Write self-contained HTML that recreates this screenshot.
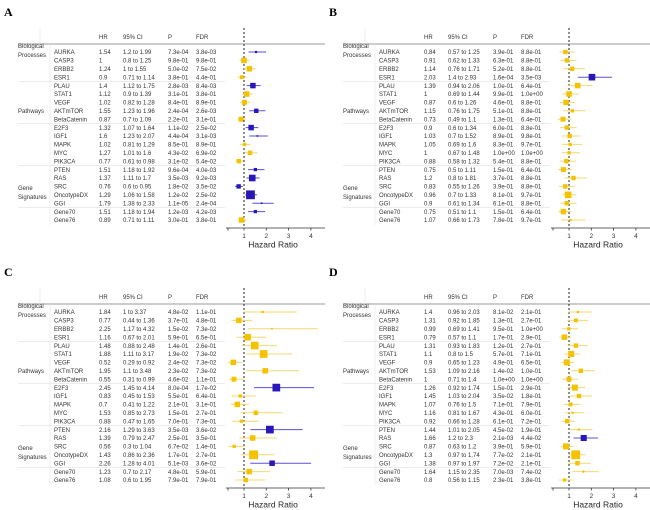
<!DOCTYPE html>
<html><head><meta charset="utf-8"><style>
html,body{margin:0;padding:0;background:#fff;}
svg{display:block;font-family:"Liberation Sans",sans-serif;}
</style></head><body>
<svg id="chart" width="650" height="510" viewBox="0 0 650 510" xmlns="http://www.w3.org/2000/svg"></svg>
<script>
const genes = ["AURKA","CASP3","ERBB2","ESR1","PLAU","STAT1","VEGF","AKTmTOR","BetaCatenin","E2F3","IGF1","MAPK","MYC","PIK3CA","PTEN","RAS","SRC","OncotypeDX","GGI","Gene70","Gene76"];
const panelLabels = ["A","B","C","D"];
const axisTicks = [1,2,3,4];

const hrA = [1.54,1,1.24,0.9,1.4,1.12,1.02,1.55,0.87,1.32,1.6,1.02,1.27,0.77,1.51,1.37,0.76,1.29,1.79,1.51,0.89];
const loA = [1.2,0.8,1,0.71,1.12,0.9,0.82,1.23,0.7,1.07,1.23,0.81,1.01,0.61,1.18,1.11,0.6,1.06,1.38,1.18,0.71];
const hiA = [1.99,1.25,1.55,1.14,1.75,1.39,1.28,1.96,1.09,1.64,2.07,1.29,1.6,0.98,1.92,1.7,0.95,1.58,2.33,1.94,1.11];
const pA = ["7.3e-04","9.8e-01","5.0e-02","3.8e-01","2.8e-03","3.1e-01","8.4e-01","2.4e-04","2.2e-01","1.1e-02","4.4e-04","8.5e-01","4.3e-02","3.1e-02","9.6e-04","3.5e-03","1.8e-02","1.2e-02","1.1e-05","1.2e-03","3.0e-01"];
const fdrA = [0.0038,0.98,0.075,0.44,0.0084,0.38,0.89,0.0026,0.31,0.025,0.0031,0.89,0.069,0.054,0.004,0.0092,0.035,0.025,0.00024,0.0042,0.38];
const fdrTxtA = ["3.8e-03","9.8e-01","7.5e-02","4.4e-01","8.4e-03","3.8e-01","8.9e-01","2.6e-03","3.1e-01","2.5e-02","3.1e-03","8.9e-01","6.9e-02","5.4e-02","4.0e-03","9.2e-03","3.5e-02","2.5e-02","2.4e-04","4.2e-03","3.8e-01"];
const sizeA = [2,5,5,3.5,5,5,4.5,4,4.5,5,1.5,3,4,4,3,6,4,8,1.5,3,5];

const hrB = [0.84,0.91,1.14,2.03,1.39,1,0.87,1.15,0.73,0.9,1.03,1.05,1,0.88,0.75,1.2,0.83,0.96,0.9,0.75,1.07];
const loB = [0.57,0.62,0.76,1.4,0.94,0.69,0.6,0.76,0.49,0.6,0.7,0.69,0.67,0.58,0.5,0.8,0.55,0.7,0.61,0.51,0.66];
const hiB = [1.25,1.33,1.71,2.93,2.06,1.44,1.26,1.75,1.1,1.34,1.52,1.6,1.48,1.32,1.11,1.81,1.26,1.33,1.34,1.1,1.73];
const pB = ["3.9e-01","6.3e-01","5.2e-01","1.6e-04","1.0e-01","9.9e-01","4.6e-01","5.1e-01","1.3e-01","6.0e-01","8.9e-01","8.3e-01","1.0e+00","5.4e-01","1.5e-01","3.7e-01","3.9e-01","8.1e-01","6.1e-01","1.5e-01","7.8e-01"];
const fdrB = [0.88,0.88,0.88,0.0035,0.64,1,0.88,0.88,0.64,0.88,0.98,0.97,1,0.88,0.64,0.88,0.88,0.97,0.88,0.64,0.97];
const fdrTxtB = ["8.8e-01","8.8e-01","8.8e-01","3.5e-03","6.4e-01","1.0e+00","8.8e-01","8.8e-01","6.4e-01","8.8e-01","9.8e-01","9.7e-01","1.0e+00","8.8e-01","6.4e-01","8.8e-01","8.8e-01","9.7e-01","8.8e-01","6.4e-01","9.7e-01"];
const sizeB = [4,4,4,6,5,5,5,3,4.5,4,4,3,3,4,4.5,4,4,6,4,5,2];

const hrC = [1.84,0.77,2.25,1.16,1.48,1.88,0.52,1.95,0.55,2.45,0.83,0.7,1.53,0.88,2.16,1.39,0.56,1.43,2.26,1.23,1.08];
const loC = [1,0.44,1.17,0.67,0.88,1.11,0.29,1.1,0.31,1.45,0.45,0.41,0.85,0.47,1.29,0.79,0.3,0.86,1.28,0.7,0.6];
const hiC = [3.37,1.36,4.32,2.01,2.48,3.17,0.92,3.48,0.99,4.14,1.53,1.22,2.73,1.65,3.63,2.47,1.04,2.36,4.01,2.17,1.95];
const pC = ["4.8e-02","3.7e-01","1.5e-02","5.9e-01","1.4e-01","1.9e-02","2.4e-02","2.3e-02","4.6e-02","8.0e-04","5.5e-01","2.1e-01","1.5e-01","7.0e-01","3.5e-03","2.5e-01","6.7e-02","1.7e-01","5.1e-03","4.8e-01","7.9e-01"];
const fdrC = [0.11,0.48,0.073,0.65,0.26,0.073,0.073,0.073,0.11,0.017,0.64,0.31,0.27,0.73,0.036,0.35,0.14,0.27,0.036,0.59,0.79];
const fdrTxtC = ["1.1e-01","4.8e-01","7.3e-02","6.5e-01","2.6e-01","7.3e-02","7.3e-02","7.3e-02","1.1e-01","1.7e-02","6.4e-01","3.1e-01","2.7e-01","7.3e-01","3.6e-02","3.5e-01","1.4e-01","2.7e-01","3.6e-02","5.9e-01","7.9e-01"];
const sizeC = [2,5,1.5,6,7,7,5,5,4.5,7,3,5,4,3,7,5,3,8,5,5,4];

const hrD = [1.4,1.31,0.99,0.79,1.31,1.1,0.9,1.53,1,1.26,1.45,1.07,1.16,0.92,1.44,1.66,0.87,1.3,1.38,1.64,0.8];
const loD = [0.96,0.92,0.69,0.57,0.93,0.8,0.65,1.09,0.71,0.92,1.03,0.76,0.81,0.66,1.01,1.2,0.63,0.97,0.97,1.15,0.56];
const hiD = [2.03,1.85,1.41,1.1,1.83,1.5,1.23,2.16,1.4,1.74,2.04,1.5,1.67,1.28,2.05,2.3,1.2,1.74,1.97,2.35,1.15];
const pD = ["8.1e-02","1.3e-01","9.5e-01","1.7e-01","1.2e-01","5.7e-01","4.9e-01","1.4e-02","1.0e+00","1.5e-01","3.5e-02","7.1e-01","4.3e-01","6.1e-01","4.5e-02","2.1e-03","3.9e-01","7.7e-02","7.2e-02","7.0e-03","2.3e-01"];
const fdrD = [0.21,0.27,1,0.29,0.27,0.71,0.65,0.1,1,0.29,0.18,0.79,0.6,0.72,0.19,0.044,0.59,0.21,0.21,0.074,0.38];
const fdrTxtD = ["2.1e-01","2.7e-01","1.0e+00","2.9e-01","2.7e-01","7.1e-01","6.5e-01","1.0e-01","1.0e+00","2.9e-01","1.8e-01","7.9e-01","6.0e-01","7.2e-01","1.9e-01","4.4e-02","5.9e-01","2.1e-01","2.1e-01","7.4e-02","3.8e-01"];
const sizeD = [2,3.5,3,5,4,5.5,5.5,4,4.5,5.5,4,3.5,2,4,2,5.5,5.5,8,4,2,3];

const panels = [
  {hr:hrA,lo:loA,hi:hiA,p:pA,fdr:fdrA,fdrTxt:fdrTxtA,size:sizeA,ox:0,oy:0},
  {hr:hrB,lo:loB,hi:hiB,p:pB,fdr:fdrB,fdrTxt:fdrTxtB,size:sizeB,ox:325,oy:0},
  {hr:hrC,lo:loC,hi:hiC,p:pC,fdr:fdrC,fdrTxt:fdrTxtC,size:sizeC,ox:0,oy:260},
  {hr:hrD,lo:loD,hi:hiD,p:pD,fdr:fdrD,fdrTxt:fdrTxtD,size:sizeD,ox:325,oy:260}
];

const NS = "http://www.w3.org/2000/svg";
const svg = document.getElementById("chart");
function mk(tag, attrs, parent, txt){
  const e = document.createElementNS(NS, tag);
  for (const k in attrs) e.setAttribute(k, attrs[k]);
  if (txt !== undefined) e.textContent = txt;
  (parent||svg).appendChild(e);
  return e;
}
function xScale(v){ return 244 + (v - 1) * 22.3; }
function yRow(i){ return 52 + i * 8.4; }

panels.forEach((P, pi) => {
  const g = mk("g", {transform:`translate(${P.ox},${P.oy})`});
  
  
  const lab = mk("text", {x:4, y:16, "font-family":"Liberation Serif,serif", "font-weight":"bold", "font-size":"12", fill:"#000"}, g, panelLabels[pi]);
  
  
  const hdr = [["HR",99],["95% CI",123],["P",168],["FDR",196]];
  hdr.forEach(h => {
    const t = mk("text", {x:h[1], y:39, "font-size":"6", fill:"#333"}, g, h[0]);
    
    
  });
  mk("line", {x1:18, y1:44, x2:325, y2:44, stroke:"#777", "stroke-width":"0.8"}, g);
  mk("line", {x1:50, y1:44, x2:50, y2:225, stroke:"#e4e4e4", "stroke-width":"0.6"}, g);
  mk("line", {x1:40, y1:28, x2:40, y2:43, stroke:"#e4e4e4", "stroke-width":"0.6"}, g);
  [3,8,13,18].forEach(k => {
    const y = yRow(k) + 4.2;
    mk("line", {x1:18, y1:y, x2:225, y2:y, stroke:"#e2e2e2", "stroke-width":"0.6"}, g);
  });
  const grp = [["Biological",48],["Processes",57],["Pathways",113],["Gene",190],["Signatures",199]];
  grp.forEach(gl => {
    const t = mk("text", {x:18, y:gl[1], "font-size":"6", fill:"#333"}, g, gl[0]);
    
    
  });
  mk("line", {x1:xScale(1), y1:28, x2:xScale(1), y2:228, stroke:"#222", "stroke-width":"1", "stroke-dasharray":"2,2"}, g);
  genes.forEach((gn, i) => {
    const y = yRow(i);
    const ty = y + 2.2;
    const row = mk("g", {}, g);
    
    
    mk("text", {x:54, y:ty, "font-size":"6", fill:"#333"}, row, gn);
    mk("text", {x:99, y:ty, "font-size":"6", fill:"#333"}, row, String(P.hr[i]));
    mk("text", {x:123, y:ty, "font-size":"6", fill:"#333"}, row, P.lo[i] + " to " + P.hi[i]);
    mk("text", {x:168, y:ty, "font-size":"6", fill:"#333"}, row, P.p[i]);
    mk("text", {x:196, y:ty, "font-size":"6", fill:"#333"}, row, P.fdrTxt[i]);
    const sig = P.fdr[i] < 0.05;
    const lc = sig ? "#5a50d8" : "#f4d870";
    const fc = sig ? "#2a17b8" : "#f5c200";
    const ci = mk("line", {x1:xScale(P.lo[i]), y1:y, x2:xScale(P.hi[i]), y2:y, stroke:lc, "stroke-width":"1"}, row);
    
    
    const s = P.size[i] * 0.55;
    const sq = mk("rect", {x:xScale(P.hr[i]) - s, y:y - s, width:2*s, height:2*s, fill:fc}, row);
    
    
  });
  const ax = mk("g", {}, g);
  
  
  mk("line", {x1:226, y1:228, x2:325, y2:228, stroke:"#333", "stroke-width":"0.8"}, ax);
  mk("line", {x1:228, y1:228, x2:228, y2:230.5, stroke:"#333", "stroke-width":"0.8"}, ax);
  axisTicks.forEach(t => {
    mk("line", {x1:xScale(t), y1:228, x2:xScale(t), y2:230.5, stroke:"#333", "stroke-width":"0.8"}, ax);
    mk("text", {x:xScale(t), y:238, "font-size":"6.5", "text-anchor":"middle", fill:"#333"}, ax, String(t));
  });
  const at = mk("text", {x:273, y:247.5, "font-size":"8.5", "text-anchor":"middle", fill:"#222"}, ax, "Hazard Ratio");
  
  
});
</script>
</body></html>
